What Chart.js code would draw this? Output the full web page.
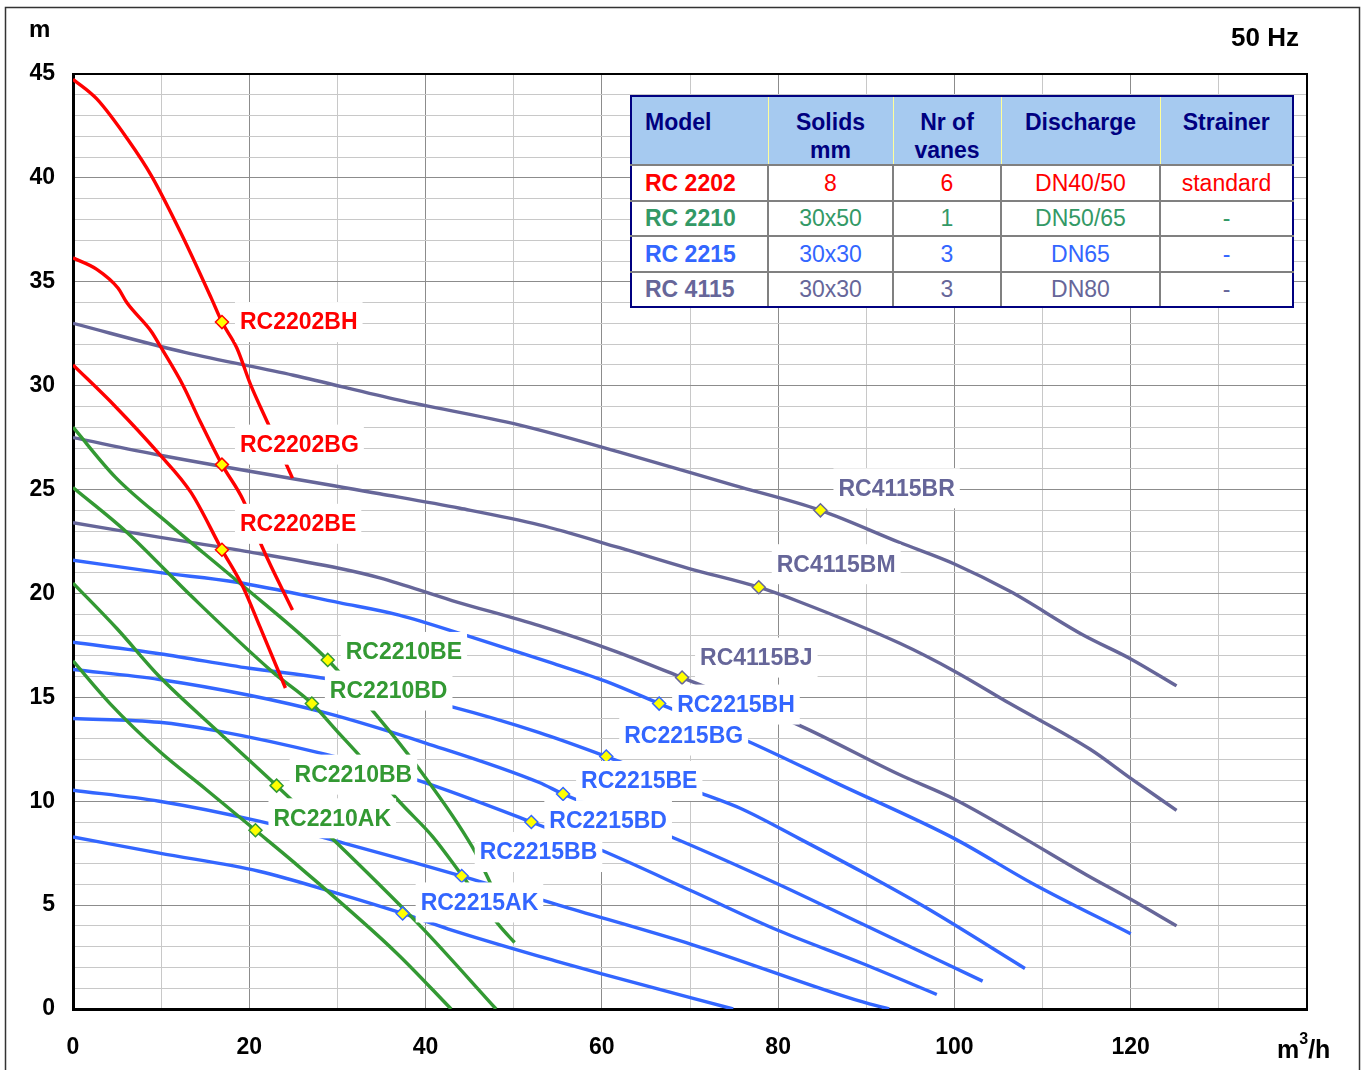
<!DOCTYPE html>
<html>
<head>
<meta charset="utf-8">
<title>RC pump curves 50 Hz</title>
<script src="https://cdn.jsdelivr.net/npm/chart.js@4.4.0/dist/chart.umd.min.js"></script>
<style>
  body { margin: 0; background: #fff; }
  #wrap { position: relative; width: 1369px; height: 1070px; overflow: hidden; }
  #curves { position: absolute; left: 0; top: 0; }
  table.spec {
    position: absolute; left: 630px; top: 95px;
    border-collapse: collapse; table-layout: fixed;
    font-family: "Liberation Sans", Arial, sans-serif; font-size: 23px;
    background: #fff; border: 2px solid #000080;
  }
  table.spec th {
    background: #a6caf0; color: #000080; font-weight: bold;
    height: 67px; padding: 11px 4px 0; box-sizing: border-box;
    vertical-align: top; line-height: 28px; white-space: pre-line;
    border-top: 2px solid #000080;
    border-left: 1px solid #ffff99; border-bottom: 2px solid #808080;
  }
  table.spec th:first-child { text-align: left; padding-left: 13px; border-left: 2px solid #000080; }
  table.spec th:last-child { border-right: 2px solid #000080; }
  table.spec td {
    height: 33.5px; padding: 0 4px; text-align: center; line-height: 28px;
    border: 2px solid #808080;
  }
  table.spec td:first-child { text-align: left; padding-left: 13px; font-weight: bold; border-left-color: #000080; }
  table.spec td:last-child { border-right-color: #000080; }
  table.spec tr:last-child td { border-bottom-color: #000080; }
</style>
</head>
<body>
<div id="wrap">
  <canvas id="curves" width="1369" height="1070"></canvas>
  <table class="spec" id="spec"></table>
</div>
<script>
// ---- data: flow (m3/h), head (m) ----
const RC2202BH = [[0,44.75],[2.7,43.8],[6.3,41.8],[8.9,40.1],[12.3,37.3],[15.7,34.2],[16.9,33.06],[18.6,31.8],[20.1,30.1],[22.1,28.2],[24.9,25.55]];
const RC2202BG = [[0,36.15],[2.7,35.6],[5.1,34.7],[6.1,34.0],[8.9,32.6],[9.9,31.9],[12.5,30.0],[14.4,28.3],[16.9,26.2],[19.3,24.5],[21.5,22.2],[24.9,19.2]];
const RC2202BE = [[0,31.0],[4.8,29.0],[9.7,26.75],[13.4,24.85],[16.9,22.1],[19.3,20.3],[21.2,18.4],[24.1,15.45]];

const RC2210BE = [[0,28.0],[4.8,25.6],[11,23.3],[18.9,20.5],[28.9,16.8],[34.6,14.05],[39.1,11.65],[45.3,7.8],[47.2,6.2],[48.5,5.0]];
const RC2210BD = [[0,25.1],[6.1,22.95],[13.6,19.8],[22.7,16.2],[27.1,14.7],[29.9,13.4],[32.5,12.2],[37.1,9.95],[40.8,8.3],[44.1,6.45],[48.4,4.0],[50.1,3.2]];
const RC2210BB = [[0,20.5],[5,18.3],[9.8,16.0],[16.2,13.45],[23.1,10.75],[29.9,8.0],[39.5,3.95],[48,0]];
const RC2210AK = [[0,16.75],[4.2,14.7],[9.8,12.4],[15,10.6],[20.7,8.6],[25.7,6.83],[36.7,2.7],[42.9,0]];

const RC2215BH = [[0,21.6],[9.9,21.0],[18.4,20.55],[30.3,19.55],[37,18.96],[44.6,17.98],[54.3,16.66],[60.4,15.78],[66.5,14.7],[76.5,12.9],[87,10.8],[100,8.2],[108.9,6.03],[120,3.62]];
const RC2215BG = [[0,17.65],[9.8,17.1],[20,16.4],[28.7,15.9],[42.9,14.55],[52.9,13.3],[60.5,12.15],[71.3,10.38],[75.7,9.66],[82.4,8.2],[89.5,6.6],[96.8,4.87],[108,1.95]];
const RC2215BE = [[0,16.34],[9.8,15.86],[20,15.1],[28.7,14.25],[40,12.8],[52.9,10.9],[55.6,10.35],[67.9,8.28],[79.9,6.03],[89.5,4.1],[103.2,1.34]];
const RC2215BD = [[0,13.98],[9.8,13.8],[16.2,13.4],[28.7,12.25],[38.9,11.04],[52,9.0],[59.9,7.65],[70.4,5.64],[79.9,3.8],[89.5,2.2],[98,0.7]];
const RC2215BB = [[0,10.53],[9.8,10.0],[21.1,9.04],[30.6,8.0],[44.1,6.4],[55.1,5.0],[70.4,3.08],[89.5,0.35],[92.6,0]];
const RC2215AK = [[0,8.28],[9.8,7.5],[21.1,6.63],[29.8,5.59],[37.4,4.6],[42.6,3.85],[55.1,2.27],[60,1.69],[74.9,0]];

const RC4115BR = [[0,33.0],[12.7,31.6],[25,30.5],[37,29.3],[50.7,28.1],[62,26.8],[75,25.2],[84.8,24.0],[93.8,22.45],[100,21.42],[106.3,20.1],[114.6,18.0],[120,16.85],[125.2,15.55]];
const RC4115BM = [[0,27.5],[9.9,26.65],[34.8,24.8],[43.9,24.1],[52.9,23.3],[62,22.2],[69.9,21.2],[77.8,20.3],[82.4,19.6],[93.8,17.6],[100,16.26],[106.3,14.7],[115.4,12.5],[120,11.1],[125.2,9.56]];
const RC4115BJ = [[0,23.4],[9.9,22.7],[20,22.0],[30.3,21.2],[34.8,20.75],[43,19.66],[52.9,18.45],[61.3,17.25],[69.1,15.95],[82.4,13.65],[93.8,11.27],[100,10.1],[107,8.44],[115,6.45],[120,5.28],[125.2,4.0]];

// duty points marked on each curve
const markers2202 = [[16.9,33.06],[16.9,26.2],[16.9,22.1]];
const markers2210 = [[28.9,16.8],[27.1,14.7],[23.1,10.75],[20.7,8.6]];
const markers2215 = [[66.5,14.7],[60.5,12.15],[55.6,10.35],[52,9.0],[44.1,6.4],[37.4,4.6]];
const markers4115 = [[84.8,24.0],[77.8,20.3],[69.1,15.95]];
const names2202 = ['RC2202BH','RC2202BG','RC2202BE'];
const names2210 = ['RC2210BE','RC2210BD','RC2210BB','RC2210AK'];
const names2215 = ['RC2215BH','RC2215BG','RC2215BE','RC2215BD','RC2215BB','RC2215AK'];
const names4115 = ['RC4115BR','RC4115BM','RC4115BJ'];

// spec table
const tableHeaders = ['Model', 'Solids\nmm', 'Nr of\nvanes', 'Discharge', 'Strainer'];
const models = ['RC 2202', 'RC 2210', 'RC 2215', 'RC 4115'];
const solids = ['8', '30x50', '30x30', '30x30'];
const vanes = ['6', '1', '3', '3'];
const discharge = ['DN40/50', 'DN50/65', 'DN65', 'DN80'];
const strainer = ['standard', '-', '-', '-'];

// ---- style ----
const RED = '#ff0000', GREEN = '#339933', BLUE = '#3366ff', PURPLE = '#666699';
const tableColors = ['#ff0000', '#339966', '#3366ff', '#666699'];
const colWidths = [137, 125, 108, 159, 133];
const FONT = '"Liberation Sans", Arial, sans-serif';
// vertical offset (px) of each label text from its marker
const labelDy2202 = [0, -20, -26];
const labelDy2210 = [-8, -13, -11, -12];
const labelDy2215 = [1, -21, -13, -1, -24, -11];
const labelDy4115 = [-22, -23, -20];

// build the table
const spec = document.getElementById('spec');
let html = '<colgroup>' + colWidths.map(w => `<col style="width:${w}px">`).join('') + '</colgroup>';
html += '<tr>' + tableHeaders.map(h => `<th>${h}</th>`).join('') + '</tr>';
models.forEach((m, i) => {
    const c = tableColors[i];
    html += `<tr style="color:${c}"><td>${m}</td><td>${solids[i]}</td><td>${vanes[i]}</td><td>${discharge[i]}</td><td>${strainer[i]}</td></tr>`;
});
spec.innerHTML = html;

function curve(points, color) {
    return {
        data: points.map(p => ({ x: p[0], y: p[1] })),
        borderColor: color,
        borderWidth: 3.4,
        pointRadius: 0,
        fill: false,
        cubicInterpolationMode: 'monotone'
    };
}

function markerSet(points, color, names, dy) {
    return {
        data: points.map(p => ({ x: p[0], y: p[1] })),
        showLine: false,
        pointStyle: 'rectRot',
        pointRadius: 6.5,
        pointBackgroundColor: '#ffff00',
        pointBorderColor: color,
        pointBorderWidth: 1.5,
        order: -1,
        labelNames: names,
        labelDy: dy,
        labelColor: color
    };
}

const datasets = [
    curve(RC2202BH, RED), curve(RC2202BG, RED), curve(RC2202BE, RED),
    curve(RC2210BE, GREEN), curve(RC2210BD, GREEN), curve(RC2210BB, GREEN), curve(RC2210AK, GREEN),
    curve(RC2215BH, BLUE), curve(RC2215BG, BLUE), curve(RC2215BE, BLUE),
    curve(RC2215BD, BLUE), curve(RC2215BB, BLUE), curve(RC2215AK, BLUE),
    curve(RC4115BR, PURPLE), curve(RC4115BM, PURPLE), curve(RC4115BJ, PURPLE),
    markerSet(markers2202, RED, names2202, labelDy2202),
    markerSet(markers2210, GREEN, names2210, labelDy2210),
    markerSet(markers2215, BLUE, names2215, labelDy2215),
    markerSet(markers4115, PURPLE, names4115, labelDy4115)
];

// frame, labels, units
const decor = {
    id: 'decor',
    beforeDraw(chart) {
        const ctx = chart.ctx;
        ctx.save();
        ctx.fillStyle = '#fff';
        ctx.fillRect(0, 0, chart.width, chart.height);
        ctx.strokeStyle = '#333';
        ctx.lineWidth = 1.5;
        ctx.strokeRect(5.5, 7.5, 1354, 1075);
        ctx.restore();
    },
    afterDatasetsDraw(chart) {
        const ctx = chart.ctx;
        ctx.save();
        ctx.font = 'bold 23px ' + FONT;
        ctx.textBaseline = 'middle';
        ctx.textAlign = 'left';
        chart.data.datasets.forEach((ds, i) => {
            if (!ds.labelNames) return;
            const meta = chart.getDatasetMeta(i);
            meta.data.forEach((pt, j) => {
                const tx = pt.x + 18;
                const ty = pt.y + ds.labelDy[j];
                const text = ds.labelNames[j];
                const w = ctx.measureText(text).width;
                ctx.fillStyle = '#fff';
                ctx.fillRect(tx - 5, ty - 20, w + 10, 40);
                ctx.fillStyle = ds.labelColor;
                ctx.fillText(text, tx, ty + 1);
            });
        });
        ctx.restore();
    },
    afterDraw(chart) {
        const ctx = chart.ctx;
        const a = chart.chartArea;
        ctx.save();
        ctx.strokeStyle = '#000';
        ctx.lineWidth = 2;
        ctx.beginPath();
        ctx.moveTo(a.left, a.top);
        ctx.lineTo(a.right, a.top);
        ctx.lineTo(a.right, a.bottom);
        ctx.stroke();

        ctx.fillStyle = '#000';
        ctx.textBaseline = 'middle';
        ctx.textAlign = 'left';
        ctx.font = 'bold 24px ' + FONT;
        ctx.fillText('m', 29, 30);
        ctx.font = 'bold 26px ' + FONT;
        ctx.fillText('50 Hz', 1231, 39);
        // m3/h with superscript
        let x = 1277;
        ctx.font = 'bold 25px ' + FONT;
        ctx.fillText('m', x, 1051);
        x += ctx.measureText('m').width;
        ctx.font = 'bold 16px ' + FONT;
        ctx.fillText('3', x, 1040);
        x += ctx.measureText('3').width;
        ctx.font = 'bold 25px ' + FONT;
        ctx.fillText('/h', x, 1051);
        ctx.restore();
    }
};

const tickFont = { family: FONT, size: 23, weight: 'bold' };

new Chart(document.getElementById('curves'), {
    type: 'line',
    data: { datasets: datasets },
    options: {
        responsive: false,
        devicePixelRatio: 1,
        animation: false,
        layout: { padding: { top: 74, right: 62, bottom: 0, left: 0 } },
        plugins: { legend: { display: false }, tooltip: { enabled: false } },
        scales: {
            x: {
                type: 'linear',
                min: 0,
                max: 140,
                afterFit: s => { s.height = 61; },
                border: { color: '#000', width: 3 },
                grid: {
                    drawTicks: false,
                    color: c => (c.tick.value % 20 === 0 ? '#8c8c8c' : '#c8c8c8')
                },
                ticks: {
                    stepSize: 10,
                    autoSkip: false,
                    maxRotation: 0,
                    padding: 25,
                    color: '#000',
                    font: tickFont,
                    callback: v => (v % 20 === 0 && v < 140 ? v : '')
                }
            },
            y: {
                min: 0,
                max: 45,
                afterFit: s => { s.width = 73; },
                border: { color: '#000', width: 3 },
                grid: {
                    drawTicks: false,
                    color: c => (c.tick.value % 5 === 0 ? '#8c8c8c' : '#c8c8c8')
                },
                ticks: {
                    stepSize: 1,
                    autoSkip: false,
                    padding: 18,
                    color: '#000',
                    font: tickFont,
                    callback: v => (v % 5 === 0 ? v : '')
                }
            }
        }
    },
    plugins: [decor]
});
</script>
</body>
</html>
